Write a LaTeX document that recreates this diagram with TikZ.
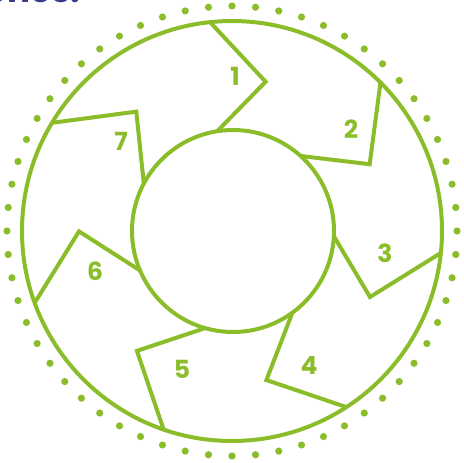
\documentclass[tikz,border=0pt]{standalone}
\usepackage{fontspec}
\setmainfont{Poppins}
\definecolor{lime}{RGB}{139,189,43}
\definecolor{navy}{RGB}{55,57,140}
\begin{document}
\begin{tikzpicture}[x=1pt,y=1pt,
  ring/.style={circle,draw=lime,line width=4pt,inner sep=0pt,outer sep=0pt},
  blade/.style={draw=lime,line width=4pt,line join=miter},
  num/.style={text=lime,font=\fontsize{25}{25}\selectfont\bfseries,inner sep=0pt},
  dot/.style={fill=lime}]
\useasboundingbox (-232,-232) rectangle (232,231);
\node[anchor=base east,text=navy,font=\fontsize{34}{34}\selectfont\bfseries,inner sep=0pt] (title) at (-152,228) {ones.};
\node[ring,minimum size=420pt] (outer) at (0,0) {};
\node[ring,minimum size=202pt] (inner) at (1,0) {};
\foreach \k in {0,...,59} {
  \fill[dot] (90+6*\k:225) circle (3.6pt);
}
\foreach \i in {1,...,7} {
  \pgfmathsetmacro\ao{96.6-51.43*(\i-1)}
  \pgfmathsetmacro\av{\ao-19.3}
  \pgfmathsetmacro\ai{\ao+3}
  \coordinate (v\i) at (\av:153);
  \draw[blade] (outer.\ao) -- (v\i) -- (inner.\ai);
}
\node[num] (n1) at (3,155) {1};
\node[num] (n2) at (119,102) {2};
\node[num] (n3) at (153,-22) {3};
\node[num] (n4) at (77,-135) {4};
\node[num] (n5) at (-50,-138) {5};
\node[num] (n6) at (-137,-40) {6};
\node[num] (n7) at (-111,90) {7};
\end{tikzpicture}
\end{document}
